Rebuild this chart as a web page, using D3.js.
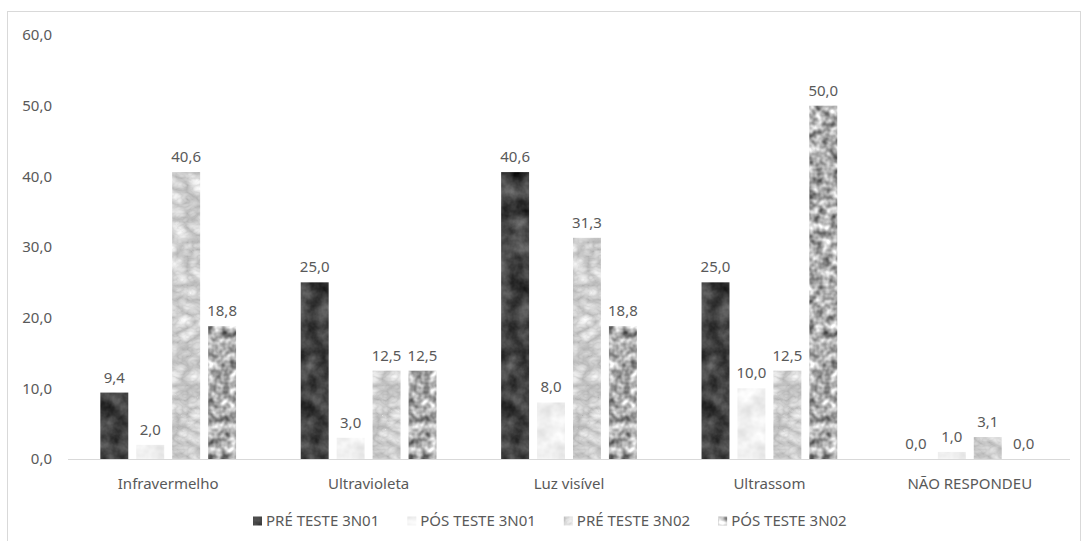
<!DOCTYPE html>
<html>
<head>
<meta charset="utf-8">
<script src="https://cdn.jsdelivr.net/npm/d3@7"></script>
<style>
  html, body { margin: 0; padding: 0; background: #fff; }
  svg text { font-family: "Noto Sans", "Open Sans", sans-serif; fill: #595959; }
</style>
</head>
<body>
<svg id="chart" width="1081" height="541"></svg>
<script>
// Categories and series
const categories = ["Infravermelho", "Ultravioleta", "Luz visível", "Ultrassom", "NÃO RESPONDEU"];
const seriesNames = ["PRÉ TESTE 3N01", "PÓS TESTE 3N01", "PRÉ TESTE 3N02", "PÓS TESTE 3N02"];
const preTeste3N01 = [9.4, 25.0, 40.6, 25.0, 0.0];
const posTeste3N01 = [2.0, 3.0, 8.0, 10.0, 1.0];
const preTeste3N02 = [40.6, 12.5, 31.3, 12.5, 3.1];
const posTeste3N02 = [18.8, 12.5, 18.8, 50.0, 0.0];
const yTicks = [0, 10, 20, 30, 40, 50, 60];

const seriesValues = [preTeste3N01, posTeste3N01, preTeste3N02, posTeste3N02];

const svg = d3.select("#chart");
const W = 1081, H = 541;
const margin = { left: 68, right: 11, top: 35, bottom: 82 };
const FS = 15;

// Outer frame
svg.append("rect")
  .attr("x", 7.5).attr("y", 11.5)
  .attr("width", W - 8).attr("height", H)
  .attr("fill", "#fff").attr("stroke", "#d9d9d9").attr("stroke-width", 1);

// Texture filters: noise composited into each bar's shape
const defs = svg.append("defs");
function textureFilter(id, freq, octaves, type, lo, hi, seed) {
  const f = defs.append("filter").attr("id", id)
    .attr("x", "0").attr("y", "0").attr("width", "1").attr("height", "1")
    .attr("color-interpolation-filters", "sRGB");
  f.append("feTurbulence").attr("type", type)
    .attr("baseFrequency", freq).attr("numOctaves", octaves)
    .attr("seed", seed).attr("result", "noise");
  // map noise to grayscale between lo and hi
  const k = (hi - lo) * 2.2;
  const b = lo - (hi - lo) * 0.6;
  f.append("feColorMatrix").attr("in", "noise").attr("type", "matrix")
    .attr("values", `${k} 0 0 0 ${b}  ${k} 0 0 0 ${b}  ${k} 0 0 0 ${b}  0 0 0 0 1`)
    .attr("result", "gray");
  f.append("feComposite").attr("in", "gray").attr("in2", "SourceGraphic")
    .attr("operator", "in");
}
textureFilter("tex0", "0.05", 4, "fractalNoise", 0.14, 0.40, 3);
textureFilter("tex1", "0.06", 3, "fractalNoise", 0.90, 0.99, 7);
textureFilter("tex2", "0.05 0.07", 3, "turbulence", 0.80, 0.97, 11);
textureFilter("tex3", "0.13", 2, "fractalNoise", 0.44, 0.92, 5);
const baseFills = ["#333", "#f2f2f2", "#dedede", "#ababab"];

const x0 = d3.scaleBand().domain(categories)
  .range([margin.left, W - margin.right]).paddingInner(0).paddingOuter(0);
const x1 = d3.scaleBand().domain(d3.range(seriesNames.length))
  .range([0, x0.bandwidth()]).paddingInner(8 / 36).paddingOuter(0.9);
const y = d3.scaleLinear().domain([0, 60]).range([H - margin.bottom, margin.top]);

const fmt = v => d3.format(".1f")(v).replace(".", ",");

// Y tick labels (no axis line, no gridlines)
svg.append("g").selectAll("text").data(yTicks).join("text")
  .attr("x", 52).attr("y", d => y(d)).attr("dy", "0.35em")
  .attr("text-anchor", "end").attr("font-size", FS).text(fmt);

// Bars
const groups = svg.append("g").selectAll("g").data(categories).join("g")
  .attr("transform", c => `translate(${x0(c)},0)`);
groups.each(function (c, ci) {
  const g = d3.select(this);
  seriesValues.forEach((vals, si) => {
    const v = vals[ci];
    if (v > 0) {
      g.append("rect")
        .attr("x", x1(si)).attr("y", y(v))
        .attr("width", x1.bandwidth()).attr("height", y(0) - y(v))
        .attr("fill", baseFills[si]).attr("filter", `url(#tex${si})`);
    }
    g.append("text")
      .attr("x", x1(si) + x1.bandwidth() / 2).attr("y", y(v) - 10)
      .attr("text-anchor", "middle").attr("font-size", FS).text(fmt(v));
  });
});

// Baseline
svg.append("line")
  .attr("x1", margin.left).attr("x2", W - margin.right)
  .attr("y1", y(0) + 0.5).attr("y2", y(0) + 0.5)
  .attr("stroke", "#d9d9d9").attr("stroke-width", 1);

// Category labels
svg.append("g").selectAll("text").data(categories).join("text")
  .attr("x", c => x0(c) + x0.bandwidth() / 2).attr("y", y(0) + 30)
  .attr("text-anchor", "middle").attr("font-size", FS).text(c => c);

// Legend: swatch, label, then the next item
const legend = svg.append("g");
const legendItems = legend.selectAll("g").data(seriesNames).join("g");
legendItems.append("rect")
  .attr("x", 0).attr("y", -4.5).attr("width", 9).attr("height", 9)
  .attr("fill", (d, i) => baseFills[i]).attr("filter", (d, i) => `url(#tex${i})`);
legendItems.append("text")
  .attr("x", 13).attr("y", 0).attr("dy", "0.35em").attr("font-size", FS).text(d => d);
let cx = 253;
legendItems.each(function () {
  d3.select(this).attr("transform", `translate(${cx},521)`);
  cx += this.getBBox().width + 28;
});
</script>
</body>
</html>
